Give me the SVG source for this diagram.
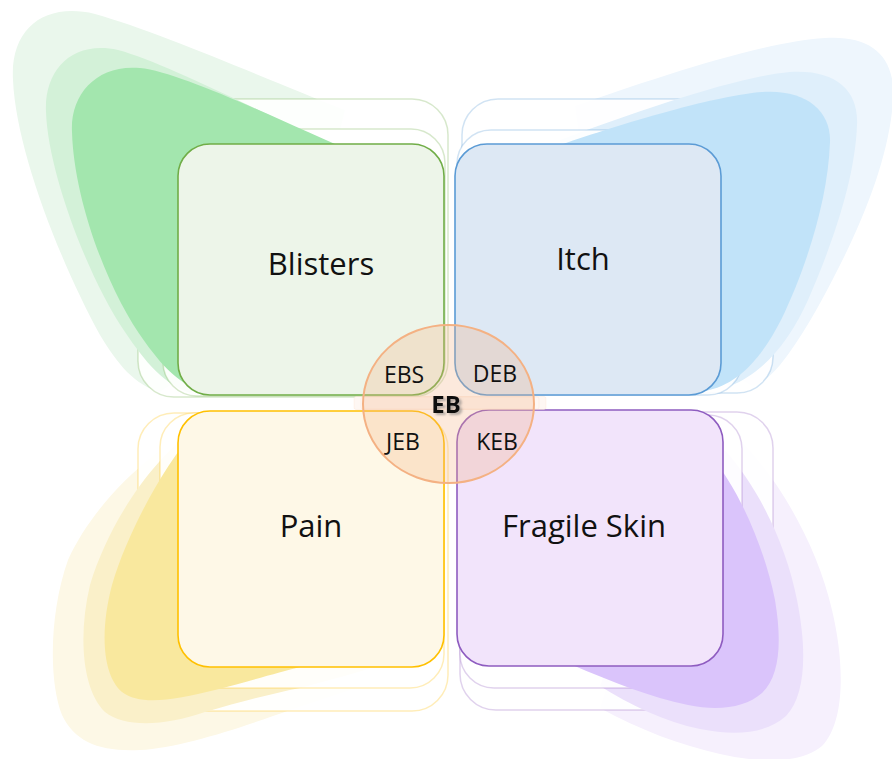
<svg xmlns="http://www.w3.org/2000/svg" width="892" height="759" viewBox="0 0 892 759">
<defs>
<filter id="shadow" x="-20%" y="-20%" width="150%" height="150%">
  <feDropShadow dx="2.5" dy="2" stdDeviation="0.8" flood-color="#777" flood-opacity="0.55"/>
</filter>
</defs>
<style>
.lbl{font-family:"Open Sans","Liberation Sans",sans-serif;fill:#111;text-anchor:middle}
.big{font-size:31px}
.sm{font-size:23px}
.ghost{fill:#fff;fill-opacity:0.9;stroke-width:1.5;stroke-opacity:0.28}
.box{stroke-width:1.6}
.eghost{fill:#fef7f3;stroke:#f4b183;stroke-opacity:0.12;stroke-width:1}
</style>
<rect width="892" height="759" fill="#fff"/>

<g id="node-blisters">
  <path fill="#eaf7ec" d="M345,110 C280,85 160,32 95,14 C45,2 10,28 13,80 C16,150 60,262 100,335 C118,365 135,385 160,392 L300,300 Z"/>
  <rect class="ghost" x="138" y="99" width="310" height="298" rx="36" stroke="#70ad47"/>
  <path fill="#d3f1d8" d="M345,150 C280,122 165,62 118,50 C72,40 44,70 46,112 C48,172 88,278 125,332 C145,362 165,385 190,393 L300,300 Z"/>
  <rect class="ghost" x="163" y="129" width="282" height="267" rx="34" stroke="#70ad47"/>
  <path fill="#a3e6ae" d="M360,155 C290,125 182,72 140,68 C96,64 70,95 72,132 C74,200 108,292 145,342 C165,370 185,390 215,394 L300,300 Z"/>
  <rect class="box" x="178" y="144" width="266" height="251" rx="32" fill="#edf5e9" stroke="#70ad47"/>
  <text class="lbl big" x="321" y="275">Blisters</text>
</g>

<g id="node-itch">
  <path fill="#eef6fd" d="M575,106 C650,80 760,42 825,38 C870,35 896,55 893,100 C890,150 868,210 840,265 C820,305 800,340 780,365 C770,377 762,383 752,386 L600,300 Z"/>
  <rect class="ghost" x="462" y="99" width="311" height="294" rx="36" stroke="#5b9bd5"/>
  <path fill="#dfeffb" d="M560,140 C640,110 740,76 790,72 C835,69 859,90 857,125 C855,180 832,245 808,300 C790,340 765,372 730,386 L600,300 Z"/>
  <rect class="ghost" x="457" y="130" width="285" height="265" rx="34" stroke="#5b9bd5"/>
  <path fill="#c1e3f9" d="M540,152 C630,120 720,95 762,92 C805,89 831,110 830,142 C828,200 806,268 782,318 C762,358 738,385 705,391 L600,300 Z"/>
  <rect class="box" x="455" y="144" width="266" height="251" rx="32" fill="#dde8f4" stroke="#5b9bd5"/>
  <text class="lbl big" x="583" y="270">Itch</text>
</g>

<g id="node-pain">
  <path fill="#fdf8e6" d="M215,420 C160,440 95,500 68,560 C50,610 48,680 62,715 C75,742 100,752 140,750 C180,748 240,728 290,710 C320,700 350,690 380,680 L300,500 Z"/>
  <rect class="ghost" x="138" y="413" width="310" height="298" rx="36" stroke="#ffc000"/>
  <path fill="#faf0c9" d="M200,425 C150,460 108,525 90,585 C78,635 82,690 105,712 C125,728 165,726 205,712 C240,702 270,694 300,688 C330,680 360,672 380,665 L300,500 Z"/>
  <rect class="ghost" x="160" y="413" width="284" height="275" rx="34" stroke="#ffc000"/>
  <path fill="#f9e89e" d="M195,430 C165,465 128,530 112,585 C100,630 102,675 122,692 C140,706 175,700 215,690 C250,681 280,672 300,667 C330,660 360,652 380,645 L300,500 Z"/>
  <rect class="box" x="178" y="411" width="266" height="256" rx="32" fill="#fef8e7" stroke="#ffc000"/>
  <text class="lbl big" x="311" y="537">Pain</text>
</g>

<g id="node-fragile-skin">
  <path fill="#f6f0fd" d="M740,440 C780,480 818,548 832,610 C845,665 845,722 822,746 C800,764 760,763 720,754 C680,745 640,730 600,708 L650,550 Z"/>
  <rect class="ghost" x="460" y="412" width="313" height="298" rx="36" stroke="#8e5cc0"/>
  <path fill="#ebe0fb" d="M725,450 C760,490 786,545 797,600 C807,650 806,695 786,716 C766,734 735,736 700,729 C665,722 630,705 600,686 L650,550 Z"/>
  <rect class="ghost" x="460" y="415" width="282" height="273" rx="34" stroke="#8e5cc0"/>
  <path fill="#dac4fb" d="M710,455 C740,490 765,550 775,600 C782,642 780,676 762,693 C745,708 718,711 688,705 C650,697 615,683 570,664 L650,550 Z"/>
  <rect class="box" x="457" y="410" width="266" height="256" rx="32" fill="#f2e4fb" stroke="#8e5cc0"/>
  <text class="lbl big" x="584" y="537">Fragile Skin</text>
</g>

<g id="node-eb">
  <rect class="eghost" x="354" y="396.5" width="192" height="13" rx="2"/>
  <rect class="eghost" x="361" y="397" width="178" height="12" rx="2"/>
  <ellipse cx="448.5" cy="404" rx="85.5" ry="79" fill="#f4b183" fill-opacity="0.28" stroke="#f4b183" stroke-width="2"/>
  <text class="lbl sm" x="404" y="383">EBS</text>
  <text class="lbl sm" x="495" y="382">DEB</text>
  <text class="lbl sm" x="403" y="450">JEB</text>
  <text class="lbl sm" x="497" y="450">KEB</text>
  <text class="lbl" x="446" y="413" font-size="24" font-weight="bold" filter="url(#shadow)">EB</text>
</g>

<g id="connectors"></g>
</svg>
